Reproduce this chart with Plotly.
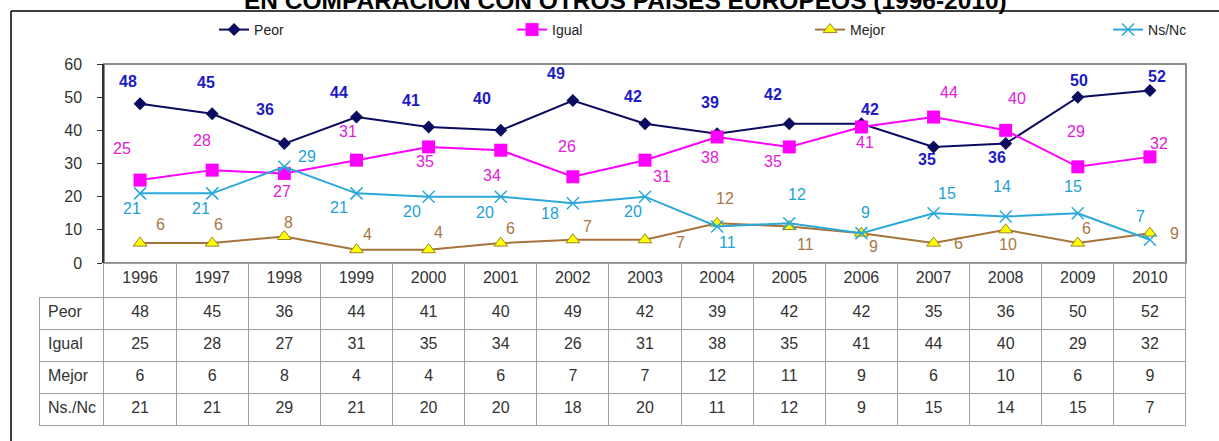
import plotly.graph_objects as go

years = [1996, 1997, 1998, 1999, 2000, 2001, 2002, 2003,
         2004, 2005, 2006, 2007, 2008, 2009, 2010]
peor = [48, 45, 36, 44, 41, 40, 49, 42, 39, 42, 42, 35, 36, 50, 52]
igual = [25, 28, 27, 31, 35, 34, 26, 31, 38, 35, 41, 44, 40, 29, 32]
mejor = [6, 6, 8, 4, 4, 6, 7, 7, 12, 11, 9, 6, 10, 6, 9]
nsnc = [21, 21, 29, 21, 20, 20, 18, 20, 11, 12, 9, 15, 14, 15, 7]
row_names = ["Peor", "Igual", "Mejor", "Ns./Nc"]
title = "EN COMPARACIÓN CON OTROS PAÍSES EUROPEOS (1996-2010)"

# label offsets (px) from each point, as placed in the original
peor_off = [(-12, -22), (-6, -31), (-19, -34), (-17, -25), (-18, -27), (-19, -32), (-17, -27),
            (-12, -27), (-7, -31), (-16, -29), (9, -14), (-7, 13), (-9, 14), (1, -17), (7, -14)]
igual_off = [(-18, -32), (-10, -30), (-2, 18), (-8, -29), (-4, 15), (-9, 25), (-6, -30),
             (17, 16), (-7, 21), (-16, 15), (4, 15), (15, -25), (11, -32), (-2, -35), (9, -13)]
mejor_off = [(20, -19), (6, -19), (4, -14), (11, -15), (10, -17), (10, -15), (15, -13),
             (35, 3), (8, -25), (16, 18), (12, 13), (25, 0), (2, 15), (9, -15), (25, 0)]
nsnc_off = [(-8, 15), (-11, 15), (23, -10), (-17, 14), (-17, 15), (-16, 16), (-23, 10),
            (-12, 15), (10, 16), (8, -29), (4, -21), (13, -20), (-4, -30), (-5, -27), (-9, -23)]

FONT = "Liberation Sans, Arial, sans-serif"

series = [
    ("Peor", peor, peor_off, "#0c0c5e", "#1c1cc4", True,
     dict(symbol="diamond", size=10, color="#0c0c5e")),
    ("Igual", igual, igual_off, "#ff00ff", "#e020d8", False,
     dict(symbol="square", size=13, color="#ff00ff")),
    ("Mejor", mejor, mejor_off, "#a8743c", "#a87844", False,
     dict(symbol="triangle-up", size=12, color="#ffff00", line=dict(color="#a08020", width=1))),
    ("Ns/Nc", nsnc, nsnc_off, "#2aa8d8", "#22a2d4", False,
     dict(symbol="x-thin", size=12, color="#2aa8d8", line=dict(color="#2aa8d8", width=1.5))),
]

fig = go.Figure()
annotations = []
for name, vals, offs, lc, tc, bold, marker in series:
    fig.add_trace(go.Scatter(
        x=years, y=vals, name=name, mode="lines+markers",
        line=dict(color=lc, width=2), marker=marker,
    ))
    for yr, v, (dx, dy) in zip(years, vals, offs):
        annotations.append(dict(
            x=yr, y=v, xref="x", yref="y", text=f"<b>{v}</b>" if bold else str(v),
            showarrow=False, xshift=dx, yshift=-dy,
            font=dict(family=FONT, size=16, color=tc),
        ))

# data table under the chart
header_vals = [""] + [str(y) for y in years]
cell_vals = [row_names] + [[p, i, m, n] for p, i, m, n in zip(peor, igual, mejor, nsnc)]
fig.add_trace(go.Table(
    domain=dict(x=[0.03281, 0.97293], y=[0, 0.4607]),
    columnwidth=[64] + [72.13] * 15,
    header=dict(
        values=header_vals, height=34, align="center",
        fill=dict(color=["rgba(0,0,0,0)"] + ["white"] * 15),
        line=dict(color=["rgba(0,0,0,0)"] + ["#a0a0a0"] * 15, width=1),
        font=dict(family=FONT, size=16, color="#333333"),
    ),
    cells=dict(
        values=cell_vals, height=32, align=["left"] + ["center"] * 15,
        fill=dict(color="white"),
        line=dict(color="#a0a0a0", width=1),
        font=dict(family=FONT, size=16, color="#333333"),
    ),
))

fig.update_layout(
    width=1219, height=441,
    margin=dict(l=0, r=0, t=64, b=8),
    paper_bgcolor="white", plot_bgcolor="white",
    font=dict(family=FONT),
    title=dict(text=f"<b>{title}</b>", x=0.513, xanchor="center", y=0.98, yanchor="bottom",
               font=dict(family=FONT, size=24.5, color="black")),
    xaxis=dict(domain=[0.08532, 0.97293], range=[1995.5, 2010.5], showticklabels=False,
               showgrid=False, zeroline=False, showline=False),
    yaxis=dict(domain=[0.4607, 1], range=[0, 60], dtick=10, showgrid=False, zeroline=False,
               showline=True, linecolor="#333333", linewidth=1.5, ticks="outside", ticklen=5,
               tickcolor="#333333", ticklabelstandoff=12,
               tickfont=dict(family=FONT, size=16, color="#333333")),
    legend=dict(orientation="h", xref="container", yref="container",
                yanchor="middle", y=0.932, xanchor="left", x=0.1756,
                entrywidth=253, entrywidthmode="pixels", bgcolor="rgba(0,0,0,0)",
                font=dict(family=FONT, size=14, color="#222222")),
    annotations=annotations,
    shapes=[
        dict(type="rect", xref="x domain", yref="y domain", x0=0, x1=1, y0=0, y1=1,
             line=dict(color="#8c8c8c", width=2), layer="below"),
        dict(type="line", xref="paper", yref="paper", x0=0.00902, x1=1.0, y0=1.1436, y1=1.1436,
             line=dict(color="black", width=1.5)),
        dict(type="line", xref="paper", yref="paper", x0=0.00902, x1=0.00902, y0=1.1436, y1=-0.05,
             line=dict(color="black", width=1.5)),
    ],
)

fig.write_html("out.html", config={"displayModeBar": False},
               post_script="document.body.style.margin='0';")
